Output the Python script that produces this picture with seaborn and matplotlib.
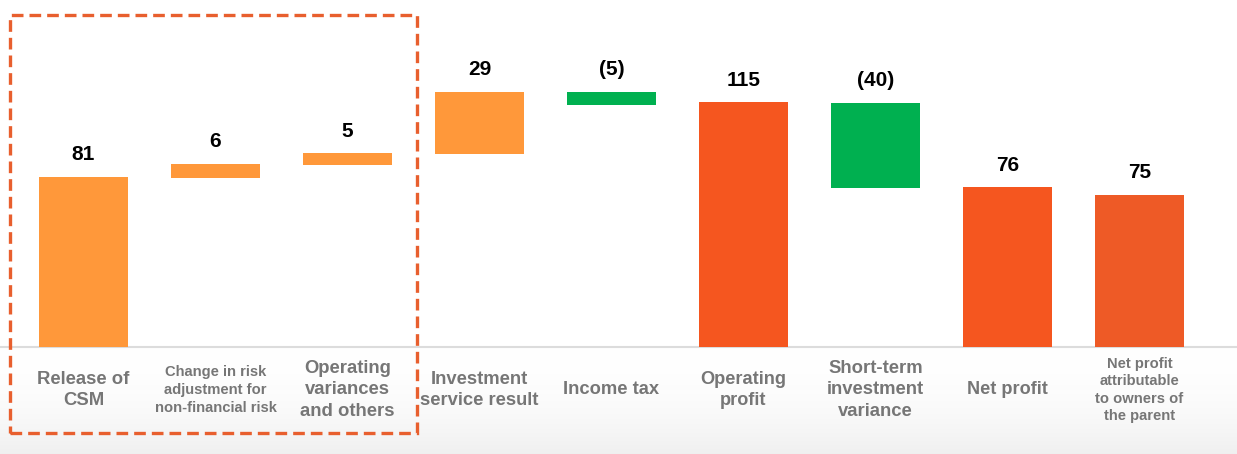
import numpy as np
import pandas as pd
import seaborn as sns
import matplotlib.pyplot as plt
from matplotlib.patches import Rectangle


# Data
categories = ['Release of\nCSM',
              'Change in risk\nadjustment for\nnon-financial risk',
              'Operating\nvariances\nand others',
              'Investment\nservice result',
              'Income tax',
              'Operating\nprofit',
              'Short-term\ninvestment\nvariance',
              'Net profit',
              'Net profit\nattributable\nto owners of\nthe parent']
value_labels = ['81', '6', '5', '29', '(5)', '115', '(40)', '76', '75']
bar_bottom = [0, 80.5, 86.8, 92, 115.5, 0, 75.8, 0, 0]
bar_top = [81, 87.2, 92.4, 121.5, 121.5, 116.7, 116.3, 76.2, 72.4]
bar_kind = ['up', 'up', 'up', 'up', 'down', 'total', 'down', 'total', 'total2']
label_size = [13.3, 10.6, 13.3, 13.2, 13.2, 13.1, 13.3, 13.1, 10.6]

colours = {'up': '#FF983A', 'down': '#00B050', 'total': '#F5561F', 'total2': '#EE5A26'}

df = pd.DataFrame({'item': categories,
                   'height': np.array(bar_top) - np.array(bar_bottom),
                   'bottom': bar_bottom})

sns.set_style('white')
plt.rcParams['font.family'] = ['Liberation Sans', 'DejaVu Sans']

fig = plt.figure(figsize=(12.37, 4.54), dpi=100)
ax = fig.add_axes([0, 0, 1, 1])

# soft grey fade at the bottom of the slide
grad = np.linspace(0, 1, 200)[:, None] ** 2
bg = np.ones((200, 2, 3)) - grad[..., None] * 0.06
ax.imshow(bg, extent=(-0.633, 8.739, -51, 0), aspect='auto', zorder=0)

sns.barplot(data=df, x='item', y='height', bottom=df['bottom'], color=colours['up'],
            width=0.68, errorbar=None, ax=ax, zorder=2, linewidth=0)
for patch, kind in zip(ax.patches, bar_kind):
    patch.set_facecolor(colours[kind])

ax.axhline(0, color='#DCDCDC', lw=1.5, zorder=1)

for i, (top, lab) in enumerate(zip(bar_top, value_labels)):
    ax.annotate(lab, (i, top), xytext=(0, 9), textcoords='offset points',
                ha='center', va='bottom', fontsize=15, fontweight='bold', color='black')

for i, (cat, fs) in enumerate(zip(categories, label_size)):
    ax.text(i, -20.5, cat, ha='center', va='center', fontsize=fs, fontweight='bold',
            color='#767676', linespacing=1.32)

ax.set_xlim(-0.633, 8.739)
ax.set_ylim(-51, 165.3)
ax.axis('off')

# dashed box round the first three items
fig.patches.append(Rectangle((10 / 1237, 1 - 433 / 454), 407 / 1237, 418 / 454,
                             transform=fig.transFigure, fill=False, edgecolor='#E85F2E',
                             lw=2.4, linestyle=(0, (3.5, 1.8)), zorder=5))

fig.savefig('out.png', dpi=100)
plt.close()
